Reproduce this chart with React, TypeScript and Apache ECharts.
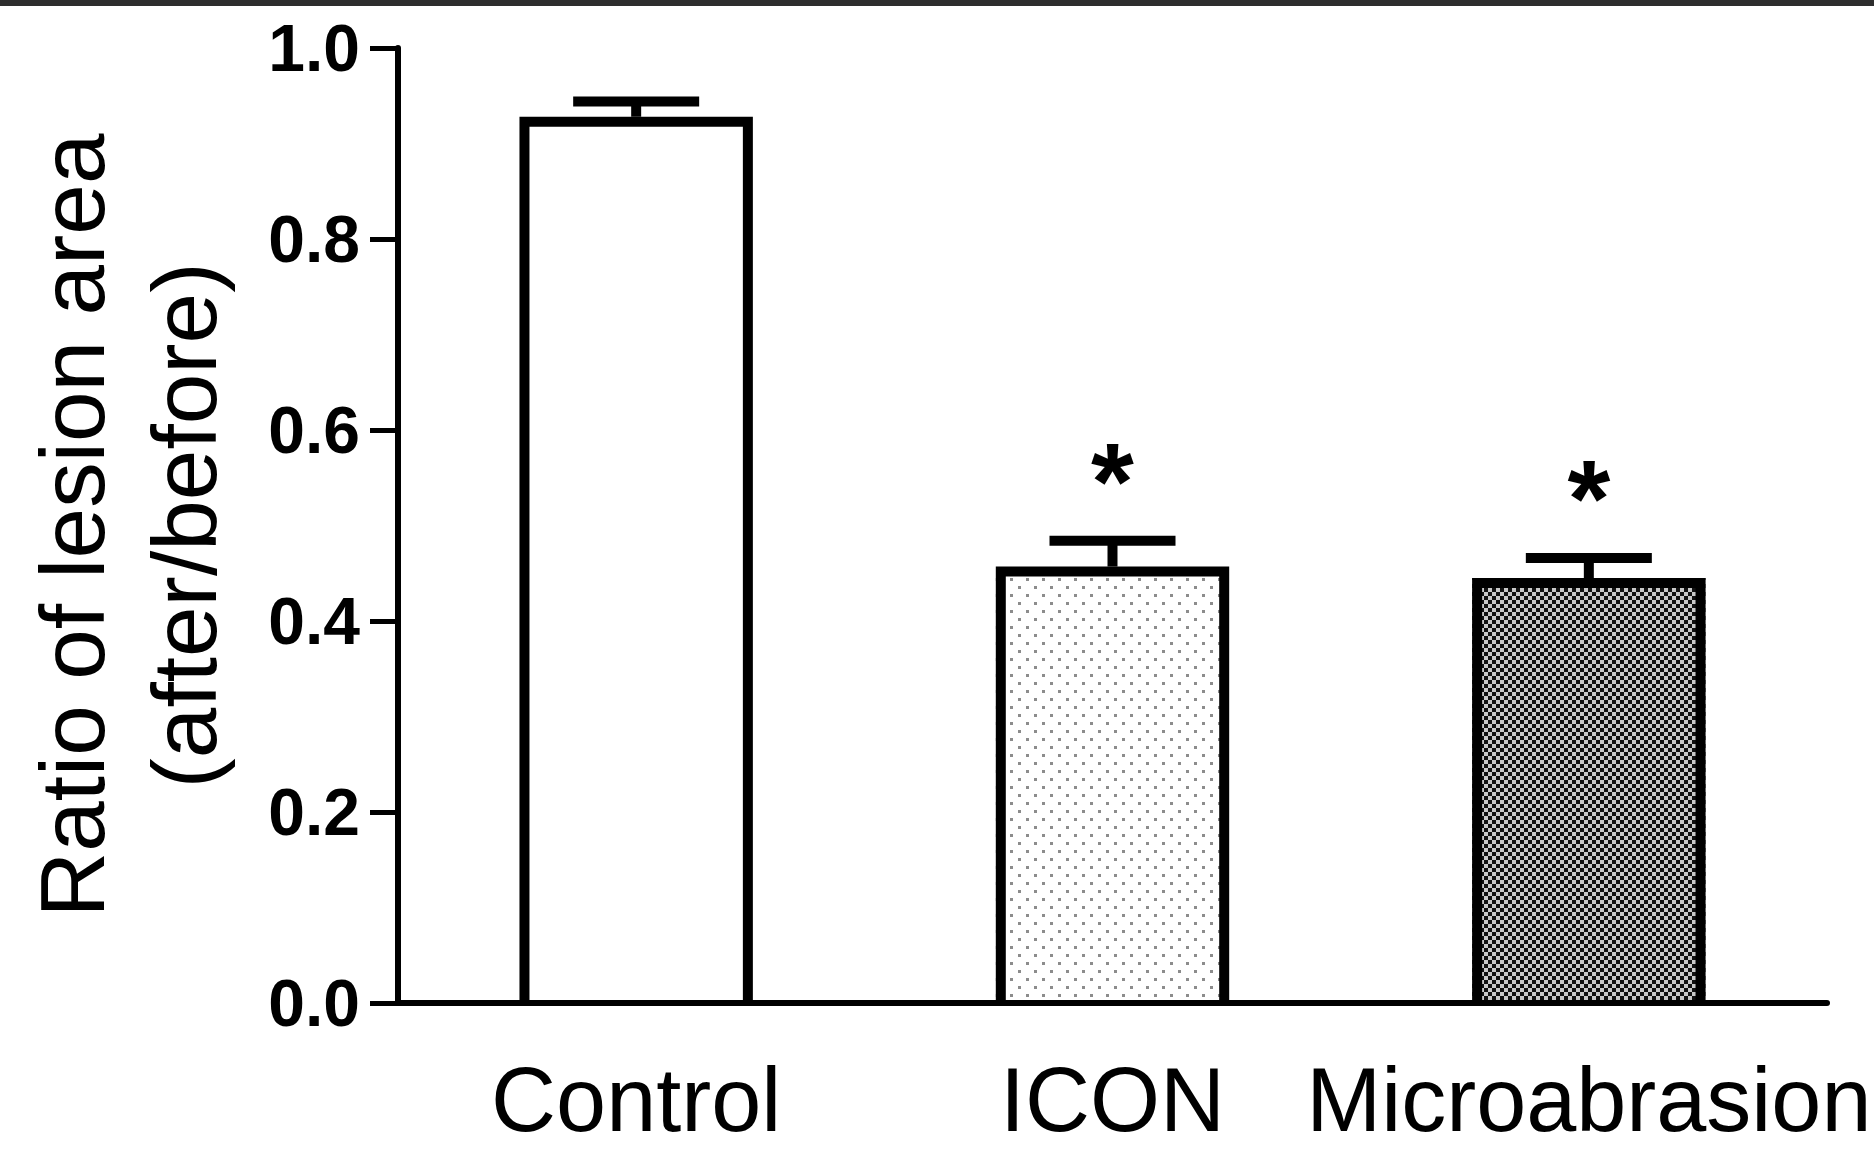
import React, { useEffect, useRef } from "react";
import * as echarts from "echarts";

const categories = ["Control", "ICON", "Microabrasion"];
const means = [0.928, 0.457, 0.445];
const errors = [0.016, 0.027, 0.021];
const significance = ["", "*", "*"];
const yAxisTitle = "Ratio of lesion area\n(after/before)";

const FONT = "'Liberation Sans', Arial, Helvetica, sans-serif";
const BAR_RATIO = 0.49;
const BORDER = 10;

function makeDots(): HTMLCanvasElement {
  const c = document.createElement("canvas");
  c.width = 16;
  c.height = 16;
  const ctx = c.getContext("2d")!;
  ctx.fillStyle = "#ffffff";
  ctx.fillRect(0, 0, 16, 16);
  ctx.fillStyle = "#8c8c8c";
  ctx.fillRect(2, 2, 3, 3);
  ctx.fillRect(10, 10, 3, 3);
  return c;
}

function makeChecker(): HTMLCanvasElement {
  const c = document.createElement("canvas");
  c.width = 8;
  c.height = 8;
  const ctx = c.getContext("2d")!;
  ctx.fillStyle = "#c8c8c8";
  ctx.fillRect(0, 0, 8, 8);
  ctx.fillStyle = "#111111";
  ctx.fillRect(0, 0, 4, 4);
  ctx.fillRect(4, 4, 4, 4);
  return c;
}

export default function App() {
  const ref = useRef<HTMLDivElement>(null);

  useEffect(() => {
    document.body.style.margin = "0";
    const chart = echarts.init(ref.current!, undefined, { renderer: "svg" });

    const fills: any[] = [
      "#ffffff",
      { image: makeDots(), repeat: "repeat" },
      { image: makeChecker(), repeat: "repeat" },
    ];

    const option: any = {
      animation: false,
      backgroundColor: "#ffffff",
      grid: {
        left: 398,
        right: 47,
        top: 48,
        bottom: 148,
        containLabel: false,
        outerBoundsMode: "none",
      },
      graphic: [
        {
          type: "rect",
          left: 0,
          top: 0,
          shape: { width: 1874, height: 6 },
          style: { fill: "#2e2e2e" },
          silent: true,
        },
      ],
      xAxis: {
        type: "category",
        data: categories,
        axisLine: { lineStyle: { color: "#000", width: 6 } },
        axisTick: {
          alignWithLabel: true,
          length: 30,
          lineStyle: { color: "#000", width: 4 },
        },
        axisLabel: {
          color: "#000",
          fontSize: 90,
          fontFamily: FONT,
          margin: 52,
          interval: 0,
        },
        splitLine: { show: false },
        z: 5,
      },
      yAxis: {
        type: "value",
        min: 0,
        max: 1,
        interval: 0.2,
        name: yAxisTitle,
        nameLocation: "middle",
        nameGap: 158,
        nameMoveOverlap: false,
        nameRotate: 90,
        nameTextStyle: {
          color: "#000",
          fontSize: 91,
          fontFamily: FONT,
          lineHeight: 112,
        },
        axisLine: { show: true, lineStyle: { color: "#000", width: 6 } },
        axisTick: { show: true, length: 28, lineStyle: { color: "#000", width: 5 } },
        axisLabel: {
          color: "#000",
          fontSize: 66,
          fontWeight: "bold",
          fontFamily: FONT,
          margin: 38,
          formatter: (v: number) => v.toFixed(1),
        },
        splitLine: { show: false },
      },
      series: [
        {
          type: "bar",
          barWidth: BAR_RATIO * 100 + "%",
          data: means.map((v, i) => ({
            value: v,
            itemStyle: { color: fills[i] },
          })),
          itemStyle: { borderWidth: 0 },
          z: 2,
        },
        {
          type: "custom",
          z: 3,
          data: categories.map((_, i) => [i, means[i], errors[i]]),
          renderItem: (params: any, api: any) => {
            const i = api.value(0);
            const m = api.value(1);
            const e = api.value(2);
            const base = api.coord([i, m]);
            const zero = api.coord([i, 0]);
            const top = api.coord([i, m + e]);
            const bw = api.size([1, 0])[0] * BAR_RATIO;
            const x = base[0];
            const half = BORDER / 2;
            const xl = x - bw / 2 + half;
            const xr = x + bw / 2 - half;
            const yt = base[1] + half;
            const hw = 63;
            const children: any[] = [
              {
                type: "polyline",
                shape: {
                  points: [
                    [xl, zero[1]],
                    [xl, yt],
                    [xr, yt],
                    [xr, zero[1]],
                  ],
                },
                style: { stroke: "#000", lineWidth: BORDER, fill: "none", lineJoin: "miter" },
              },
              {
                type: "line",
                shape: { x1: x, y1: base[1], x2: x, y2: top[1] },
                style: { stroke: "#000", lineWidth: 10 },
              },
              {
                type: "line",
                shape: { x1: x - hw, y1: top[1], x2: x + hw, y2: top[1] },
                style: { stroke: "#000", lineWidth: 10 },
              },
            ];
            const sig = significance[params.dataIndex];
            if (sig) {
              children.push({
                type: "text",
                x: x,
                y: top[1] - 60,
                style: {
                  text: sig,
                  fontSize: 110,
                  fontWeight: "bold",
                  fontFamily: FONT,
                  fill: "#000",
                  textAlign: "center",
                  textVerticalAlign: "middle",
                },
              });
            }
            return { type: "group", children };
          },
        },
      ],
    };

    chart.setOption(option);
    return () => chart.dispose();
  }, []);

  return (
    <div
      ref={ref}
      style={{
        position: "fixed",
        left: 0,
        top: 0,
        width: 1874,
        height: 1151,
        background: "#fff",
      }}
    />
  );
}
